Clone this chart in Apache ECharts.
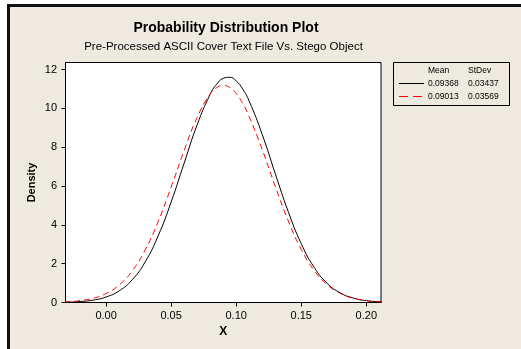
<!DOCTYPE html>
<html>
<head>
<meta charset="utf-8">
<script src="https://cdn.jsdelivr.net/npm/echarts@6/dist/echarts.min.js"></script>
<style>html,body{margin:0;padding:0;background:#fff;}#c{width:521px;height:349px;}</style>
</head>
<body>
<div id="c"></div>
<script>
var titleText = 'Probability Distribution Plot';
var subtitleText = 'Pre-Processed ASCII Cover Text File Vs. Stego Object';
var xName = 'X';
var yName = 'Density';
var xTicks = [0, 0.05, 0.10, 0.15, 0.20];
var yTicks = [0, 2, 4, 6, 8, 10, 12];
var legendHeader = ['Mean', 'StDev'];
var means = ['0.09368', '0.09013'];
var stdevs = ['0.03437', '0.03569'];

var xs1 = [-0.04, -0.03, -0.02, -0.01, 0.00, 0.01, 0.02, 0.03, 0.04, 0.05, 0.06, 0.07, 0.08, 0.085, 0.09, 0.095, 0.10, 0.105, 0.11, 0.12, 0.13, 0.14, 0.15, 0.16, 0.17, 0.18, 0.19, 0.20, 0.21, 0.22];
var ys1 = [0.006, 0.018, 0.049, 0.123, 0.283, 0.599, 1.166, 2.086, 3.429, 5.176, 7.181, 9.154, 10.723, 11.243, 11.541, 11.598, 11.412, 10.994, 10.370, 8.657, 6.641, 4.681, 3.031, 1.804, 0.986, 0.496, 0.229, 0.097, 0.038, 0.0135];
var xs2 = [-0.04, -0.03, -0.02, -0.01, 0.00, 0.01, 0.02, 0.03, 0.04, 0.05, 0.06, 0.07, 0.08, 0.085, 0.09, 0.095, 0.10, 0.105, 0.11, 0.12, 0.13, 0.14, 0.15, 0.16, 0.17, 0.18, 0.19, 0.20, 0.21, 0.22];
var ys2 = [0.0145, 0.039, 0.096, 0.218, 0.461, 0.899, 1.622, 2.704, 4.168, 5.941, 7.827, 9.534, 10.737, 11.063, 11.178, 11.074, 10.759, 10.249, 9.573, 7.875, 5.989, 4.211, 2.737, 1.645, 0.914, 0.469, 0.223, 0.098, 0.040, 0.0149];

function pairs(xs, ys) { return xs.map(function (x, i) { return [x, ys[i]]; }); }

var bg = '#EEEAE0';
var font = 'Liberation Sans, Arial, sans-serif';
var chart = echarts.init(document.getElementById('c'), null, { renderer: 'canvas' });

var lx = 393, ly = 62, lw = 116, lh = 43;
var legendGraphics = [
  { type: 'rect', shape: { x: lx + 0.5, y: ly + 0.5, width: lw, height: lh }, style: { fill: bg, stroke: '#000', lineWidth: 1 } },
  { type: 'text', x: 428, y: 71, style: { text: legendHeader[0], font: '8.5px ' + font, fill: '#000', textAlign: 'left', textVerticalAlign: 'middle' } },
  { type: 'text', x: 468, y: 71, style: { text: legendHeader[1], font: '8.5px ' + font, fill: '#000', textAlign: 'left', textVerticalAlign: 'middle' } },
  { type: 'line', shape: { x1: 399, y1: 83.5, x2: 424, y2: 83.5 }, style: { stroke: '#000', lineWidth: 1 } },
  { type: 'line', shape: { x1: 399, y1: 96.5, x2: 424, y2: 96.5 }, style: { stroke: '#ff0000', lineWidth: 1, lineDash: [9, 5] } }
];
for (var i = 0; i < means.length; i++) {
  legendGraphics.push({ type: 'text', x: 428, y: 83.5 + 13 * i, style: { text: means[i], font: '8.5px ' + font, fill: '#000', textAlign: 'left', textVerticalAlign: 'middle' } });
  legendGraphics.push({ type: 'text', x: 468, y: 83.5 + 13 * i, style: { text: stdevs[i], font: '8.5px ' + font, fill: '#000', textAlign: 'left', textVerticalAlign: 'middle' } });
}

var option = {
  backgroundColor: bg,
  animation: false,
  graphic: [
    { type: 'rect', shape: { x: 0, y: 0, width: 7, height: 349 }, style: { fill: '#fff' } },
    { type: 'rect', shape: { x: 0, y: 0, width: 521, height: 4 }, style: { fill: '#fff' } },
    { type: 'rect', shape: { x: 7, y: 4, width: 514, height: 3 }, style: { fill: '#111' } },
    { type: 'rect', shape: { x: 7, y: 4, width: 3, height: 345 }, style: { fill: '#111' } },
    { type: 'text', x: 226, y: 28.5, style: { text: titleText, font: 'bold 14px ' + font, fill: '#000', textAlign: 'center', textVerticalAlign: 'middle' } },
    { type: 'text', x: 223.5, y: 47, style: { text: subtitleText, font: '11.5px ' + font, fill: '#000', textAlign: 'center', textVerticalAlign: 'middle' } },
    { type: 'text', x: 31.5, y: 182.5, rotation: Math.PI / 2, style: { text: yName, font: 'bold 11px ' + font, fill: '#000', textAlign: 'center', textVerticalAlign: 'middle' } }
  ].concat(legendGraphics),
  grid: {
    left: 65.5, right: 140, top: 62.5, bottom: 46.5,
    show: true, backgroundColor: '#fff', borderColor: '#000', borderWidth: 1
  },
  xAxis: {
    type: 'value', min: -0.0312, max: 0.2113,
    name: xName, nameLocation: 'middle', nameGap: 21,
    nameTextStyle: { fontFamily: font, fontWeight: 'bold', fontSize: 12, color: '#000' },
    axisLine: { show: true, onZero: false, lineStyle: { color: '#000', width: 1 } },
    axisTick: { show: true, inside: false, length: 4, lineStyle: { color: '#000' }, customValues: xTicks },
    axisLabel: { show: true, fontFamily: font, fontSize: 11, color: '#000', margin: 7.5, customValues: xTicks,
      formatter: function (v) { return v.toFixed(2); } },
    splitLine: { show: false }
  },
  yAxis: {
    type: 'value', min: 0, max: 12.36,
    axisLine: { show: true, onZero: false, lineStyle: { color: '#000', width: 1 } },
    axisTick: { show: true, inside: false, length: 4, lineStyle: { color: '#000' }, customValues: yTicks },
    axisLabel: { show: true, fontFamily: font, fontSize: 11, color: '#000', margin: 8.5, customValues: yTicks },
    splitLine: { show: false }
  },
  series: [
    { type: 'line', data: pairs(xs1, ys1), smooth: true, showSymbol: false, clip: true,
      lineStyle: { color: '#000', width: 1, type: 'solid' } },
    { type: 'line', data: pairs(xs2, ys2), smooth: true, showSymbol: false, clip: true,
      lineStyle: { color: '#ff0000', width: 1, type: [6, 4] } }
  ]
};
chart.setOption(option);
</script>
</body>
</html>
